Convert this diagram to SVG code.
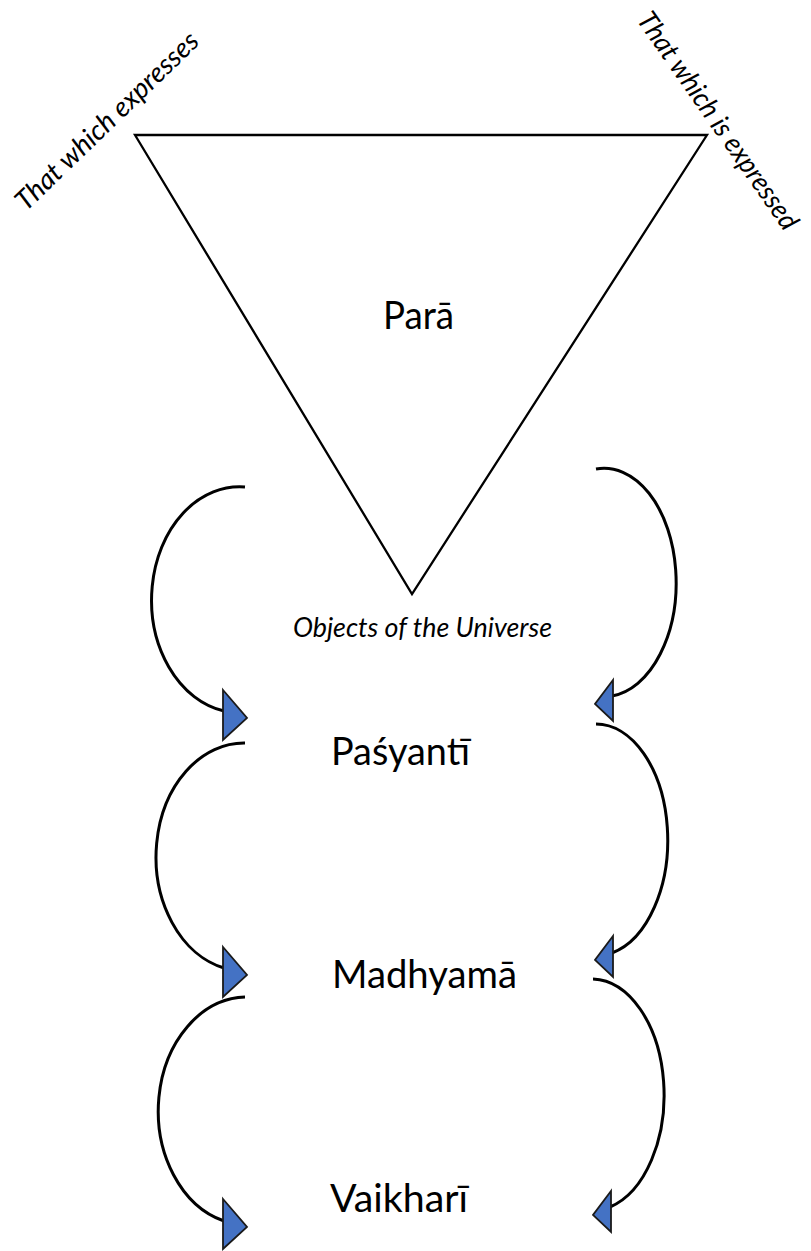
<svg xmlns="http://www.w3.org/2000/svg" width="811" height="1251" viewBox="0 0 811 1251">
  <style>
    .bg { fill: #ffffff; }
    .tri { fill: none; stroke: #000000; stroke-width: 2.3; stroke-linejoin: miter; }
    .arc { fill: none; stroke: #000000; stroke-width: 3; stroke-linecap: butt; }
    .head { fill: #4472C4; stroke: #1a1a1a; stroke-width: 1.8; stroke-linejoin: miter; }
    .label { font-family: Lato, "Open Sans", "Noto Sans", sans-serif; font-size: 38px; fill: #000000; }
    .note { font-family: Lato, "Open Sans", "Noto Sans", sans-serif; font-size: 27.5px; font-style: italic; fill: #000000; }
  </style>
  <defs>
    <!-- arrowhead on the left-hand arcs, pointing right; origin at middle of its base -->
    <path id="head-r" class="head" d="M0,-25 L24,3 L0,25 Z"/>
    <!-- arrowhead on the right-hand arcs, pointing left -->
    <path id="head-l" class="head" d="M0,-20 L-18,4 L0,21 Z"/>
  </defs>

  <rect class="bg" x="0" y="0" width="811" height="1251"/>

  <!-- inverted triangle: Para -->
  <g id="para">
    <polygon class="tri" points="135,135 707,135 412,594"/>
    <text class="label" x="383" y="329" textLength="71" lengthAdjust="spacingAndGlyphs">Parā</text>
  </g>

  <g id="expresses">
    <text class="note" transform="translate(26,212) rotate(-44)" textLength="243" lengthAdjust="spacingAndGlyphs">That which expresses</text>
  </g>

  <g id="expressed">
    <text class="note" transform="translate(636,20) rotate(55)" textLength="259" lengthAdjust="spacingAndGlyphs">That which is expressed</text>
  </g>

  <g id="objects">
    <text class="note" x="293" y="637" textLength="259" lengthAdjust="spacingAndGlyphs">Objects of the Universe</text>
  </g>

  <g id="pasyanti">
    <text class="label" x="331" y="765" textLength="139" lengthAdjust="spacingAndGlyphs">Paśyantī</text>
  </g>

  <g id="madhyama">
    <text class="label" x="332" y="988" textLength="185" lengthAdjust="spacingAndGlyphs">Madhyamā</text>
  </g>

  <g id="vaikhari">
    <text class="label" x="330" y="1212" textLength="138" lengthAdjust="spacingAndGlyphs">Vaikharī</text>
  </g>

  <!-- curved connectors down each side -->
  <g id="connectors">
    <path class="arc" d="M245,487 A88,113 0 0 0 224,711"/>
    <use href="#head-r" x="223" y="715"/>
    <path class="arc" d="M245,743 A88,114 0 0 0 224,968"/>
    <use href="#head-r" x="223" y="972"/>
    <path class="arc" d="M245,997 A89,114 0 0 0 224,1221"/>
    <use href="#head-r" x="223" y="1224"/>

    <path class="arc" d="M596,469 A72,114 0 0 1 612,696"/>
    <use href="#head-l" x="613" y="700"/>
    <path class="arc" d="M596,724 A72,116 0 0 1 612,953"/>
    <use href="#head-l" x="613" y="956"/>
    <path class="arc" d="M593,979 A73,116 0 0 1 610,1207"/>
    <use href="#head-l" x="611" y="1211"/>
  </g>
</svg>
